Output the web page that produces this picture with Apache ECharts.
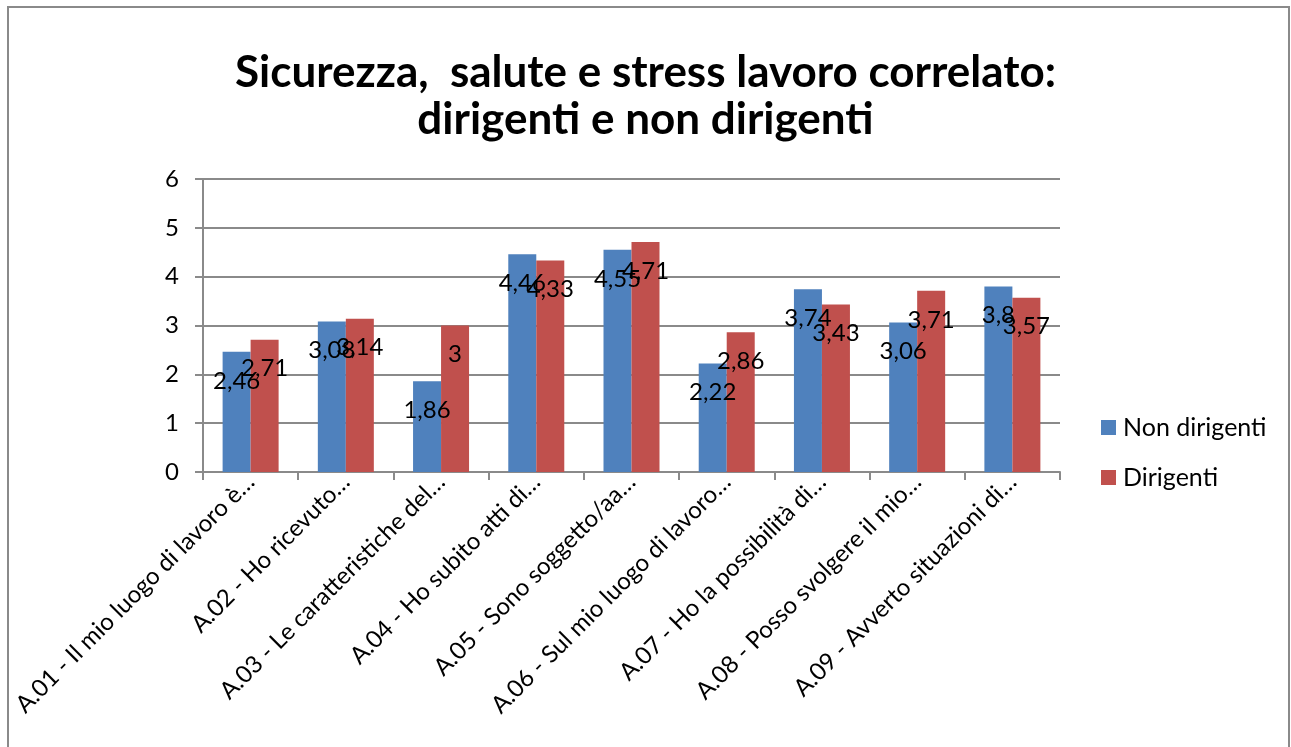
<!DOCTYPE html>
<html>
<head>
    <meta http-equiv="Content-type" content="text/html; charset=utf-8" />
    <title>Sicurezza, salute e stress lavoro correlato</title>
    <script src="https://cdn.jsdelivr.net/npm/echarts@6/dist/echarts.min.js"></script>
    <style>
    html, body {
        margin: 0;
        padding: 0;
        background: #fff;
    }
    #main {
        width: 1291px;
        height: 747px;
    }
    </style>
</head>
<body>
    <div id="main"></div>
    <script type="text/javascript">
        // domande (etichette troncate come nel grafico originale)
        var categorie = [
            'A.01 - Il mio luogo di lavoro è…',
            'A.02 - Ho ricevuto…',
            'A.03 - Le caratteristiche del…',
            'A.04 - Ho subito atti di…',
            'A.05 - Sono soggetto/aa…',
            'A.06 - Sul mio luogo di lavoro…',
            'A.07 - Ho la possibilità di…',
            'A.08 - Posso svolgere il mio…',
            'A.09 - Avverto situazioni di…'
        ];
        var nonDirigenti = [2.46, 3.08, 1.86, 4.46, 4.55, 2.22, 3.74, 3.06, 3.8];
        var dirigenti = [2.71, 3.14, 3, 4.33, 4.71, 2.86, 3.43, 3.71, 3.57];
        var yTicks = [0, 1, 2, 3, 4, 5, 6];

        var font = 'Lato, "Open Sans", sans-serif';

        // etichetta con la virgola decimale
        function virgola(p) {
            return String(p.value).replace('.', ',');
        }

        var etichetta = {
            show: true,
            position: 'insideTop',
            distance: 17,
            color: '#000',
            fontFamily: font,
            fontSize: 24,
            formatter: virgola
        };

        var myChart = echarts.init(document.getElementById('main'));
        myChart.setOption({
            animation: false,
            title: {
                text: 'Sicurezza,  salute e stress lavoro correlato:\ndirigenti e non dirigenti',
                left: 'center',
                top: 44,
                textStyle: {
                    fontFamily: font,
                    fontWeight: 'bold',
                    fontSize: 44,
                    lineHeight: 47,
                    color: '#000'
                }
            },
            graphic: [{
                type: 'rect',
                shape: { x: 8, y: 7, width: 1281, height: 780 },
                style: { fill: 'none', stroke: '#8a8a8a', lineWidth: 2 },
                silent: true
            }],
            legend: {
                orient: 'vertical',
                left: 1096,
                top: 410,
                itemWidth: 15,
                itemHeight: 15,
                itemGap: 25,
                icon: 'rect',
                textStyle: {
                    fontFamily: font,
                    fontSize: 25,
                    color: '#000',
                    padding: [0, 0, 0, 2]
                },
                data: ['Non dirigenti', 'Dirigenti']
            },
            grid: {
                left: 203,
                right: 231,
                top: 179,
                bottom: 275
            },
            xAxis: {
                type: 'category',
                data: categorie,
                axisLine: { lineStyle: { color: '#8a8a8a', width: 2 } },
                axisTick: { show: true, length: 8, lineStyle: { color: '#8a8a8a', width: 2 } },
                axisLabel: {
                    interval: 0,
                    rotate: 45,
                    margin: 6,
                    color: '#000',
                    fontFamily: font,
                    fontSize: 24
                }
            },
            yAxis: {
                type: 'value',
                min: yTicks[0],
                max: yTicks[yTicks.length - 1],
                interval: 1,
                axisLine: { show: true, lineStyle: { color: '#8a8a8a', width: 2 } },
                axisTick: { show: true, length: 8, lineStyle: { color: '#8a8a8a', width: 2 } },
                splitLine: { lineStyle: { color: '#8a8a8a', width: 2 } },
                axisLabel: {
                    margin: 24,
                    color: '#000',
                    fontFamily: font,
                    fontSize: 24
                }
            },
            series: [
                {
                    name: 'Non dirigenti',
                    type: 'bar',
                    data: nonDirigenti,
                    barWidth: 28,
                    barGap: '0%',
                    itemStyle: { color: '#4f81bd' },
                    label: etichetta
                },
                {
                    name: 'Dirigenti',
                    type: 'bar',
                    data: dirigenti,
                    barWidth: 28,
                    itemStyle: { color: '#c0504d' },
                    label: etichetta
                }
            ]
        });
    </script>
</body>
</html>
